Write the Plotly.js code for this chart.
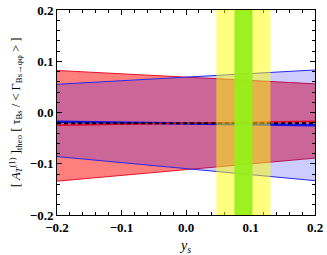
<!DOCTYPE html>
<html>
<head>
<meta charset="utf-8">
<script src="https://cdn.plot.ly/plotly-3.0.1.min.js"></script>
<style>
  html, body { margin: 0; padding: 0; background: #fff; }
  #graph { width: 327px; height: 255px; }
</style>
</head>
<body>
<div id="graph"></div>
<script>
// y_s range end points
const ys = [-0.2, 0.2];

// red band (upper / lower edge and central line)
const redUpper = [0.082, 0.056];
const redLower = [-0.134, -0.089];
const redCenter = [-0.025, -0.017];

// blue band
const blueUpper = [0.055, 0.083];
const blueLower = [-0.086, -0.133];
const blueCenter = [-0.018, -0.025];

// black dashed reference line
const refLine = [-0.021, -0.021];

// measured y_s: green = 1 sigma, yellow = wider range
const yellowRange = [0.047, 0.131];
const greenRange = [0.075, 0.103];

const tickVals = [-0.2, -0.1, 0.0, 0.1, 0.2];
const tickText = ['\u22120.2', '\u22120.1', '0.0', '0.1', '0.2'];

const tickFont = {family: 'Liberation Serif, Times New Roman, serif', size: 13, color: '#000', weight: 'bold'};

let traces = [
    {x: ys, y: redLower, mode: 'lines', line: {color: 'rgb(230,20,40)', width: 1}, showlegend: false},
    {x: ys, y: redUpper, mode: 'lines', fill: 'tonexty', fillcolor: 'rgba(255,0,0,0.5)',
     line: {color: 'rgb(230,20,40)', width: 1}, showlegend: false},
    {x: ys, y: blueLower, mode: 'lines', line: {color: 'rgb(40,40,230)', width: 1}, showlegend: false},
    {x: ys, y: blueUpper, mode: 'lines', fill: 'tonexty', fillcolor: 'rgba(0,0,255,0.2)',
     line: {color: 'rgb(40,40,230)', width: 1}, showlegend: false},
    {x: ys, y: blueCenter, mode: 'lines', line: {color: 'rgb(20,20,240)', width: 2.5}, showlegend: false},
    {x: ys, y: redCenter, mode: 'lines', line: {color: 'rgb(230,0,40)', width: 1.5}, showlegend: false},
    {x: ys, y: refLine, mode: 'lines', line: {color: '#000', width: 2, dash: '4px,3px'}, showlegend: false}
];

let layout = {
    width: 327,
    height: 255,
    margin: {l: 57, r: 12, t: 10, b: 40},
    paper_bgcolor: '#fff',
    plot_bgcolor: '#fff',
    xaxis: {
        range: [-0.2, 0.2],
        tickvals: tickVals,
        ticktext: tickText,
        ticks: 'inside',
        ticklen: 5,
        tickcolor: '#000',
        showgrid: false,
        zeroline: false,
        showline: true,
        linecolor: '#000',
        linewidth: 1,
        mirror: 'ticks',
        tickfont: tickFont,
        minor: {dtick: 0.02, ticks: 'inside', ticklen: 3, tickcolor: '#000', showgrid: false},
        title: {text: '<i>y<sub>s</sub></i>', font: {family: 'Liberation Serif, serif', size: 14, color: '#000'}, standoff: 14}
    },
    yaxis: {
        range: [-0.2, 0.2],
        tickvals: tickVals,
        ticktext: tickText,
        ticks: 'inside',
        ticklen: 5,
        tickcolor: '#000',
        showgrid: false,
        zeroline: false,
        showline: true,
        linecolor: '#000',
        linewidth: 1,
        mirror: 'ticks',
        tickfont: tickFont,
        minor: {dtick: 0.02, ticks: 'inside', ticklen: 3, tickcolor: '#000', showgrid: false},
        title: {
            text: '[ <i>A</i><sub><i>T</i></sub><sup>(1)</sup> ]<sub>theo</sub> [ \u03c4<sub>Bs</sub> / &lt; \u0393<sub>Bs\u2192\u03c6\u03c6</sub> &gt; ]',
            font: {family: 'Liberation Serif, serif', size: 12.5, color: '#000'},
            standoff: 6
        }
    },
    shapes: [
        {type: 'rect', xref: 'x', yref: 'paper', x0: yellowRange[0], x1: yellowRange[1], y0: 0, y1: 1,
         fillcolor: 'rgba(255,255,0,0.5)', line: {width: 0}, layer: 'above'},
        {type: 'rect', xref: 'x', yref: 'paper', x0: greenRange[0], x1: greenRange[1], y0: 0, y1: 1,
         fillcolor: 'rgba(150,240,25,0.92)', line: {width: 0}, layer: 'above'}
    ]
};

Plotly.newPlot('graph', traces, layout, {staticPlot: true});
</script>
</body>
</html>
